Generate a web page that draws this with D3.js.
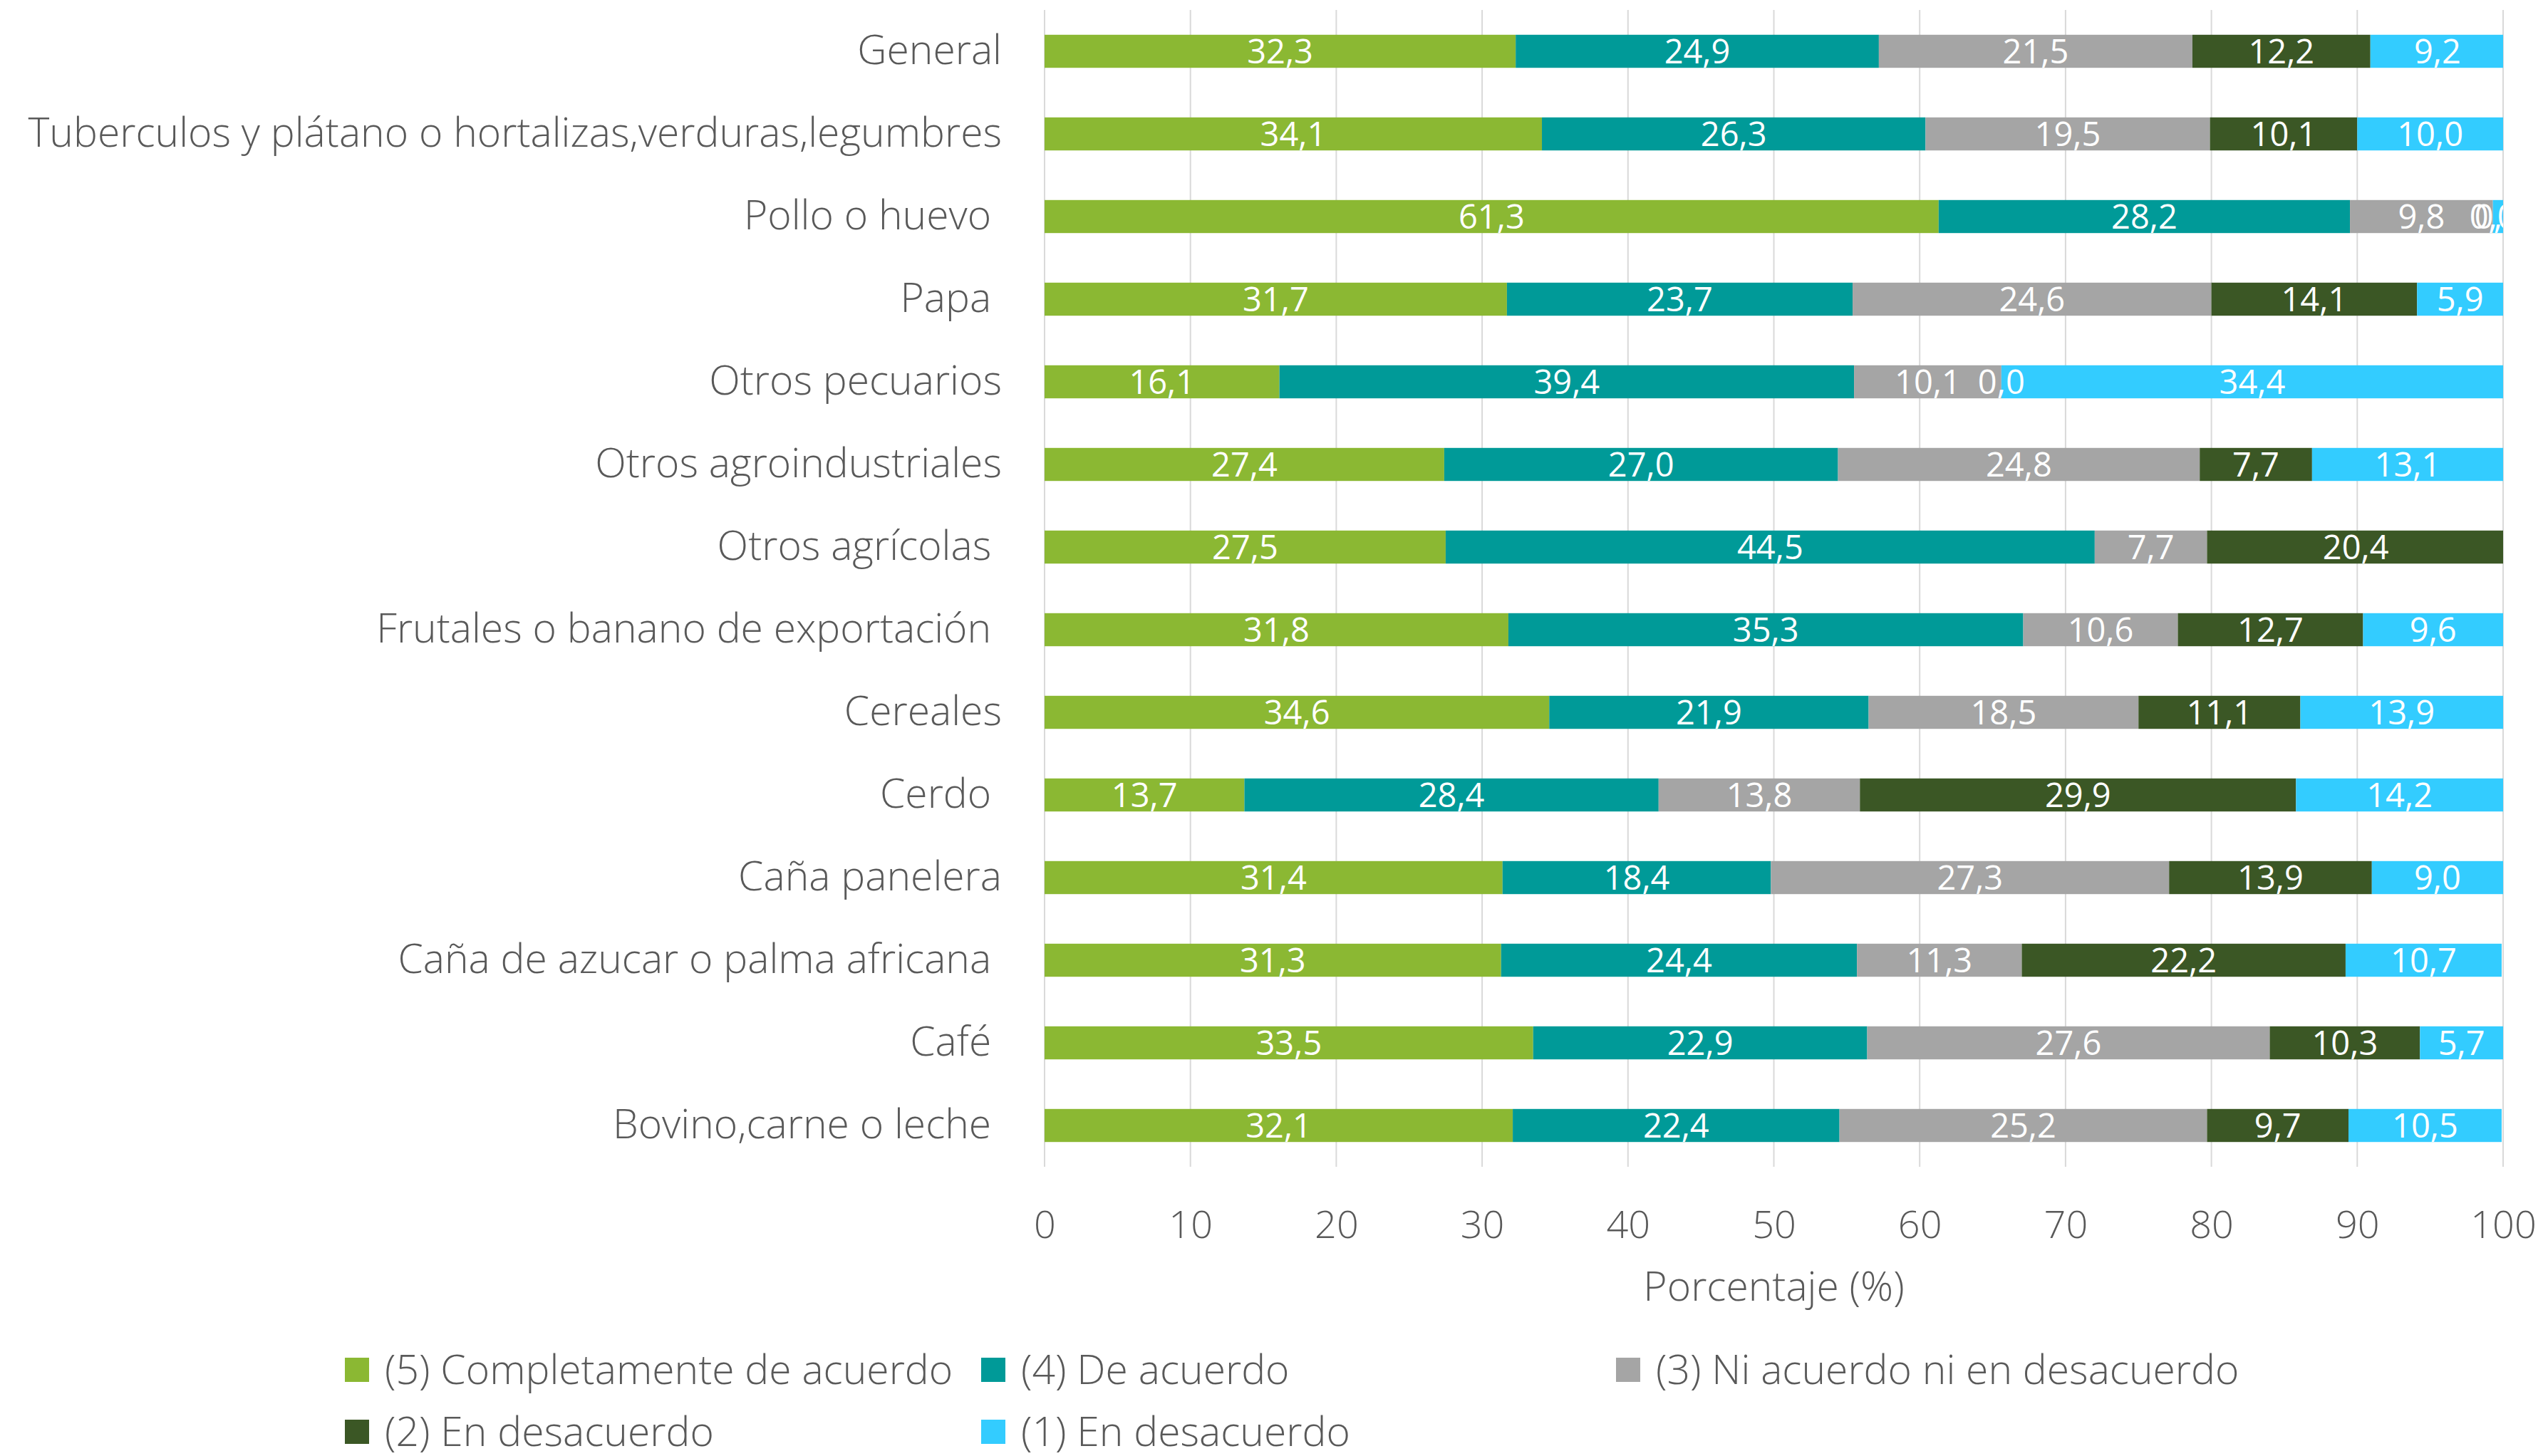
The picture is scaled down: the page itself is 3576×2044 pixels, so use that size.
<!DOCTYPE html>
<html>
<head>
<meta charset="utf-8">
<script src="https://cdn.jsdelivr.net/npm/d3@7"></script>
<style>
  html, body { margin: 0; padding: 0; background: #ffffff; }
  svg text { font-family: "Open Sans", "Noto Sans", sans-serif; font-weight: 300; white-space: pre; }
  svg text.value-label { font-weight: 400; }
</style>
</head>
<body>
<svg id="chart" width="3576" height="2044"></svg>
<script>
// Crop types (top to bottom)
const categories = [
  "General",
  "Tuberculos y plátano o hortalizas,verduras,legumbres",
  "Pollo o huevo ",
  "Papa ",
  "Otros pecuarios",
  "Otros agroindustriales",
  "Otros agrícolas ",
  "Frutales o banano de exportación ",
  "Cereales",
  "Cerdo ",
  "Caña panelera",
  "Caña de azucar o palma africana ",
  "Café ",
  "Bovino,carne o leche "
];

// Likert response shares (%) per crop type
const completamenteDeAcuerdo = [32.3, 34.1, 61.3, 31.7, 16.1, 27.4, 27.5, 31.8, 34.6, 13.7, 31.4, 31.3, 33.5, 32.1];
const deAcuerdo              = [24.9, 26.3, 28.2, 23.7, 39.4, 27.0, 44.5, 35.3, 21.9, 28.4, 18.4, 24.4, 22.9, 22.4];
const niAcuerdo              = [21.5, 19.5,  9.8, 24.6, 10.1, 24.8,  7.7, 10.6, 18.5, 13.8, 27.3, 11.3, 27.6, 25.2];
const enDesacuerdo2          = [12.2, 10.1,  0.0, 14.1,  0.0,  7.7, 20.4, 12.7, 11.1, 29.9, 13.9, 22.2, 10.3,  9.7];
const enDesacuerdo1          = [ 9.2, 10.0,  0.7,  5.9, 34.4, 13.1, null,  9.6, 13.9, 14.2,  9.0, 10.7,  5.7, 10.5];

const seriesNames = [
  "(5) Completamente de acuerdo",
  "(4) De acuerdo",
  "(3) Ni acuerdo ni en desacuerdo",
  "(2) En desacuerdo",
  "(1) En desacuerdo"
];
const seriesValues = [completamenteDeAcuerdo, deAcuerdo, niAcuerdo, enDesacuerdo2, enDesacuerdo1];
const seriesColors = ["#8BB833", "#009A98", "#A5A5A5", "#3B5725", "#33CCFF"];

const xTicks = [0, 10, 20, 30, 40, 50, 60, 70, 80, 90, 100];
const xTitle = "Porcentaje (%)";

const svg = d3.select("#chart");
const plot = { left: 1466, right: 3513, top: 14, bottom: 1638 };

const x = d3.scaleLinear().domain([0, 100]).range([plot.left, plot.right]);
const y = d3.scaleBand().domain(categories).range([plot.top, plot.bottom]).paddingInner(0.6).paddingOuter(0.3);

svg.append("defs").append("clipPath").attr("id", "plotClip")
  .append("rect")
  .attr("x", plot.left).attr("y", plot.top)
  .attr("width", plot.right - plot.left).attr("height", plot.bottom - plot.top);

// Vertical gridlines
svg.append("g")
  .selectAll("line")
  .data(xTicks)
  .join("line")
  .attr("x1", d => x(d)).attr("x2", d => x(d))
  .attr("y1", plot.top).attr("y2", plot.bottom)
  .attr("stroke", "#D9D9D9").attr("stroke-width", 2);

// Stacked segments
const stacked = [];
categories.forEach((c, i) => {
  let acc = 0;
  seriesValues.forEach((vals, s) => {
    const v = vals[i];
    if (v === null || v === undefined) return;
    stacked.push({ cat: c, s, v, x0: acc, x1: acc + v });
    acc += v;
  });
});

const barsG = svg.append("g").attr("clip-path", "url(#plotClip)");
barsG.selectAll("rect")
  .data(stacked)
  .join("rect")
  .attr("x", d => x(d.x0))
  .attr("y", d => y(d.cat))
  .attr("width", d => x(d.x1) - x(d.x0))
  .attr("height", y.bandwidth())
  .attr("fill", d => seriesColors[d.s]);

const fmt = v => d3.format(".1f")(v).replace(".", ",");

barsG.selectAll("text")
  .data(stacked)
  .join("text")
  .attr("class", "value-label")
  .attr("x", d => x((d.x0 + d.x1) / 2))
  .attr("y", d => y(d.cat) + y.bandwidth() / 2)
  .attr("dy", "0.36em")
  .attr("text-anchor", "middle")
  .attr("fill", "#ffffff")
  .attr("font-size", 47)
  .text(d => fmt(d.v));

// Category labels
const yAxis = svg.append("g")
  .attr("transform", `translate(${plot.left},0)`)
  .call(d3.axisLeft(y).tickSize(0).tickPadding(60));
yAxis.select(".domain").remove();
yAxis.selectAll("text")
  .attr("font-size", 57)
  .attr("fill", "#595959");

// X axis ticks
const xAxis = svg.append("g")
  .attr("transform", `translate(0,${plot.bottom})`)
  .call(d3.axisBottom(x).tickValues(xTicks).tickSize(0).tickPadding(62).tickFormat(d3.format("d")));
xAxis.select(".domain").remove();
xAxis.selectAll("text")
  .attr("font-size", 54)
  .attr("fill", "#595959");

svg.append("text")
  .attr("x", (plot.left + plot.right) / 2)
  .attr("y", 1806)
  .attr("dy", "0.35em")
  .attr("text-anchor", "middle")
  .attr("font-size", 57)
  .attr("fill", "#595959")
  .text(xTitle);

// Legend
const legendPos = [
  { x: 484, y: 1923 }, { x: 1377, y: 1923 }, { x: 2268, y: 1923 },
  { x: 484, y: 2010 }, { x: 1377, y: 2010 }
];
const legend = svg.append("g")
  .selectAll("g")
  .data(seriesNames)
  .join("g")
  .attr("transform", (d, i) => `translate(${legendPos[i].x},${legendPos[i].y})`);
legend.append("rect")
  .attr("x", 0).attr("y", -17)
  .attr("width", 34).attr("height", 34)
  .attr("fill", (d, i) => seriesColors[i]);
legend.append("text")
  .attr("x", 56)
  .attr("dy", "0.35em")
  .attr("font-size", 57)
  .attr("fill", "#595959")
  .text(d => d);
</script>
</body>
</html>
